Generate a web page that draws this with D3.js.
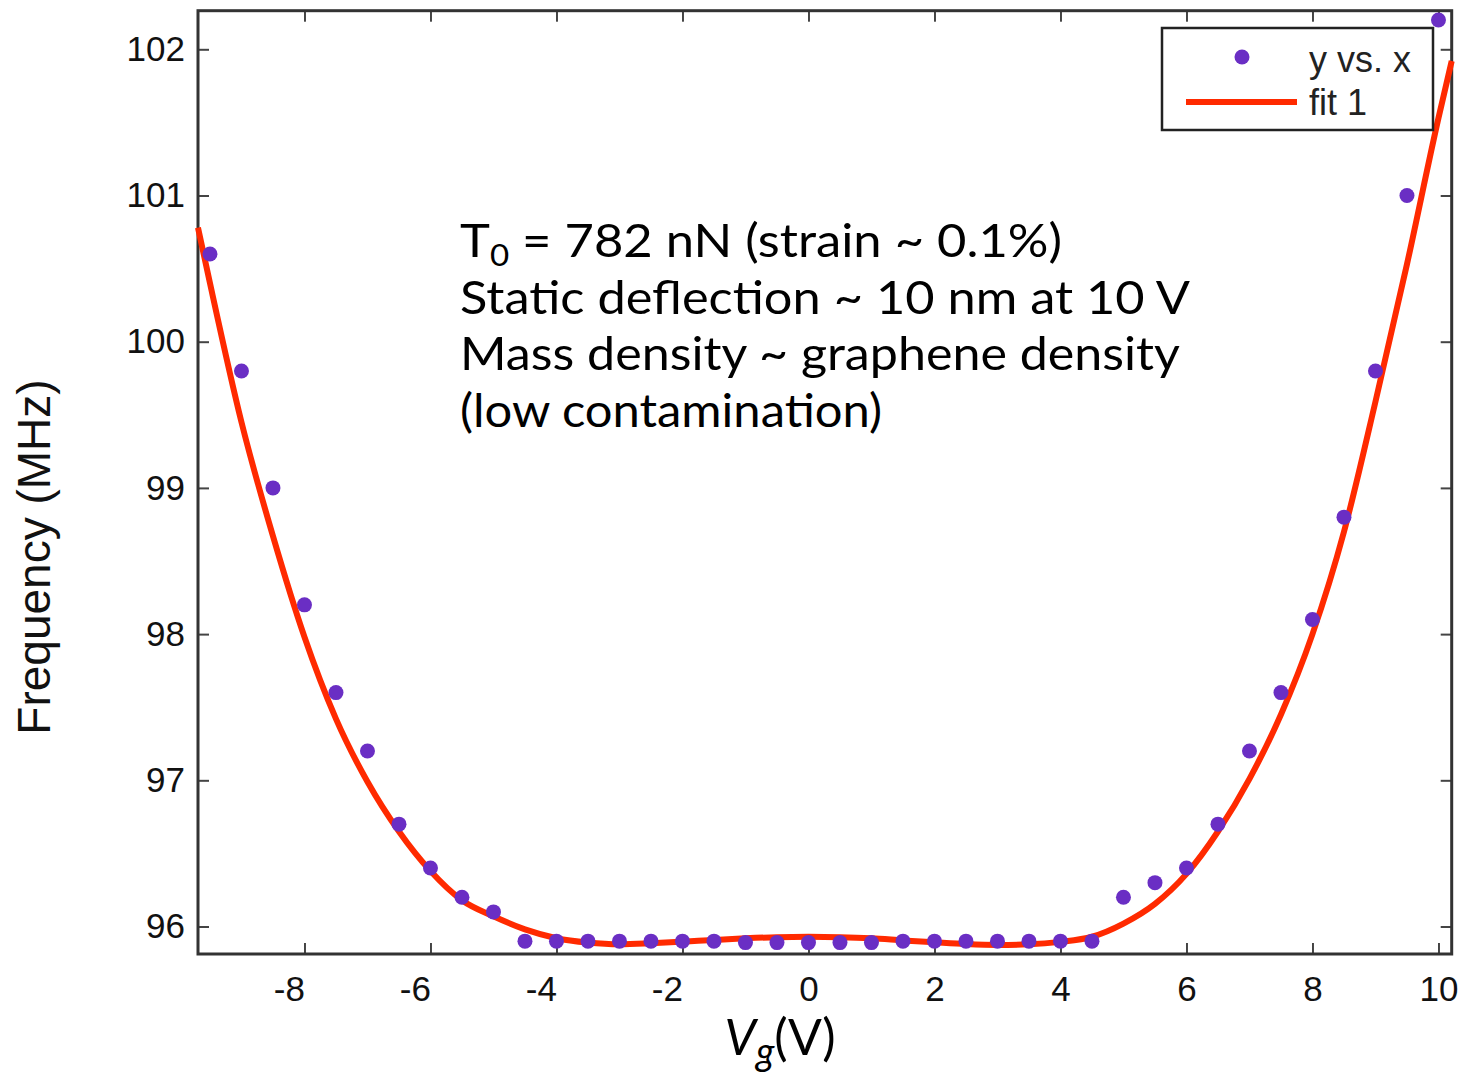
<!DOCTYPE html>
<html>
<head>
<meta charset="utf-8">
<script src="https://cdn.jsdelivr.net/npm/d3@7"></script>
<style>
  body { margin: 0; background: #fff; }
  svg { display: block; }
</style>
</head>
<body>
<div id="chart"></div>
<script>
// measured points (gate voltage in V, frequency in MHz)
var vgPoints = [-9.5, -9, -8.5, -8, -7.5, -7, -6.5, -6, -5.5, -5,
    -4.5, -4, -3.5, -3, -2.5, -2, -1.5, -1, -0.5, 0,
    0.5, 1, 1.5, 2, 2.5, 3, 3.5, 4, 4.5, 5,
    5.5, 6, 6.5, 7, 7.5, 8, 8.5, 9, 9.5, 10];
var freqPoints = [100.6, 99.8, 99.0, 98.2, 97.6, 97.2, 96.7, 96.4, 96.2, 96.1,
    95.9, 95.9, 95.9, 95.9, 95.9, 95.9, 95.9, 95.89, 95.89, 95.89,
    95.89, 95.89, 95.9, 95.9, 95.9, 95.9, 95.9, 95.9, 95.9, 96.2,
    96.3, 96.4, 96.7, 97.2, 97.6, 98.1, 98.8, 99.8, 101.0, 102.2];

// fit curve
var fitVg = [-9.69, -9.5, -9, -8.5, -8, -7.5, -7, -6.5, -6, -5.5, -5, -4.5, -4, -3.5,
    -3, -2.5, -2, -1.5, -1, -0.5, 0, 0.5, 1, 1.5, 2, 2.5, 3, 3.5, 4, 4.5,
    5, 5.5, 6, 6.5, 7, 7.5, 8, 8.5, 9, 9.5, 10, 10.21];
var fitFreq = [100.78, 100.40, 99.45, 98.67, 97.98, 97.42, 96.99, 96.65, 96.38, 96.18, 96.07, 95.98, 95.92, 95.89,
    95.878, 95.885, 95.896, 95.908, 95.919, 95.927, 95.93, 95.927, 95.919, 95.905, 95.892, 95.88, 95.874, 95.878, 95.895, 95.93,
    96.02, 96.155, 96.36, 96.65, 97.01, 97.45, 98.0, 98.7, 99.59, 100.53, 101.53, 101.92];

var xTicks = [-8, -6, -4, -2, 0, 2, 4, 6, 8, 10];
var yTicks = [96, 97, 98, 99, 100, 101, 102];

var annotation = ["T|0| = 782 nN (strain ~ 0.1%)",
    "Static deflection ~ 10 nm at 10 V",
    "Mass density ~ graphene density",
    "(low contamination)"];
var annotationWidths = [602, 730, 720, 422];

var margin = { top: 10.7, left: 198 };
var width = 1253.7, height = 943.3;

var svg = d3.select("#chart").append("svg")
    .attr("width", 1466)
    .attr("height", 1072);

var chartGroup = svg.append("g")
    .attr("transform", `translate(${margin.left}, ${margin.top})`);

var x = d3.scaleLinear().domain([-9.69, 10.21]).range([0, width]);
var y = d3.scaleLinear().domain([95.812, 102.264]).range([height, 0]);

var tickFont = "'Liberation Sans', Arial, Helvetica, sans-serif";
var axisColor = "#333";

// ticks on all four sides, pointing inward
function styleAxis(g) {
    g.select(".domain").remove();
    g.selectAll(".tick line").attr("stroke", "#444").attr("stroke-width", 2);
}

var bottomAxis = chartGroup.append("g")
    .attr("transform", `translate(0, ${height})`)
    .call(d3.axisBottom(x).tickValues(xTicks).tickSizeInner(-11).tickPadding(22).tickFormat(d3.format("d")));
styleAxis(bottomAxis);
bottomAxis.selectAll(".tick text")
    .attr("font-family", tickFont)
    .attr("font-size", 35)
    .attr("fill", "#111")
    .attr("text-anchor", d => d < 0 ? "end" : "middle")
    .text(d => d < 0 ? "-" + Math.abs(d) : d);

var topAxis = chartGroup.append("g")
    .call(d3.axisTop(x).tickValues(xTicks).tickSizeInner(-11).tickFormat(""));
styleAxis(topAxis);

var leftAxis = chartGroup.append("g")
    .call(d3.axisLeft(y).tickValues(yTicks).tickSizeInner(-11).tickPadding(13).tickFormat(d3.format("d")));
styleAxis(leftAxis);
leftAxis.selectAll(".tick text")
    .attr("font-family", tickFont)
    .attr("font-size", 35)
    .attr("fill", "#111");

var rightAxis = chartGroup.append("g")
    .attr("transform", `translate(${width}, 0)`)
    .call(d3.axisRight(y).tickValues(yTicks).tickSizeInner(-11).tickFormat(""));
styleAxis(rightAxis);

// frame
chartGroup.append("rect")
    .attr("width", width)
    .attr("height", height)
    .attr("fill", "none")
    .attr("stroke", axisColor)
    .attr("stroke-width", 3);

// fit line
var line = d3.line()
    .x(d => x(d[0]))
    .y(d => y(d[1]))
    .curve(d3.curveMonotoneX);

chartGroup.append("path")
    .datum(fitVg.map((v, i) => [v, fitFreq[i]]))
    .attr("d", line)
    .attr("fill", "none")
    .attr("stroke", "#ff2a00")
    .attr("stroke-width", 6)
    .attr("stroke-linejoin", "round");

// data points
chartGroup.selectAll("circle.pt")
    .data(vgPoints.map((v, i) => [v, freqPoints[i]]))
    .enter().append("circle")
    .attr("class", "pt")
    .attr("cx", d => x(d[0]))
    .attr("cy", d => y(d[1]))
    .attr("r", 7.5)
    .attr("fill", "#6a2ec4");

// legend
var legend = svg.append("g");
legend.append("rect")
    .attr("x", 1162).attr("y", 28)
    .attr("width", 271).attr("height", 102)
    .attr("fill", "#fff")
    .attr("stroke", "#222")
    .attr("stroke-width", 2.5);
legend.append("circle")
    .attr("cx", 1242).attr("cy", 57).attr("r", 7.5)
    .attr("fill", "#6a2ec4");
legend.append("line")
    .attr("x1", 1186).attr("x2", 1297)
    .attr("y1", 102).attr("y2", 102)
    .attr("stroke", "#ff2a00")
    .attr("stroke-width", 6);
legend.append("text")
    .attr("x", 1309).attr("y", 72)
    .attr("font-family", tickFont).attr("font-size", 36).attr("fill", "#222")
    .text("y vs. x");
legend.append("text")
    .attr("x", 1309).attr("y", 115)
    .attr("font-family", tickFont).attr("font-size", 36).attr("fill", "#222")
    .text("fit 1");

// annotation text
var noteFont = "'Comic Sans MS', Lato, sans-serif";
var baselines = [257, 314, 370, 427];
annotation.forEach(function(str, i) {
    var t = svg.append("text")
        .attr("x", 460)
        .attr("y", baselines[i])
        .attr("font-family", noteFont)
        .attr("font-size", 46)
        .attr("fill", "#000")
        .attr("textLength", annotationWidths[i])
        .attr("lengthAdjust", "spacingAndGlyphs");
    var parts = str.split("|");
    if (parts.length > 1) {
        t.append("tspan").text(parts[0]);
        t.append("tspan").attr("dy", 9).attr("font-size", 30).text(parts[1]);
        t.append("tspan").attr("dy", -9).text(parts[2]);
    } else {
        t.text(str);
    }
});

// axis titles
var xTitle = svg.append("text")
    .attr("x", 780)
    .attr("y", 1055)
    .attr("text-anchor", "middle")
    .attr("font-family", noteFont)
    .attr("font-size", 50)
    .attr("fill", "#000");
xTitle.append("tspan").attr("font-style", "italic").text("V");
xTitle.append("tspan").attr("font-style", "italic").attr("font-size", 38).attr("dy", 10).text("g");
xTitle.append("tspan").attr("dy", -10).text("(V)");

svg.append("text")
    .attr("transform", "translate(50, 557) rotate(-90)")
    .attr("text-anchor", "middle")
    .attr("font-family", tickFont)
    .attr("font-size", 46)
    .attr("fill", "#111")
    .text("Frequency (MHz)");
</script>
</body>
</html>
